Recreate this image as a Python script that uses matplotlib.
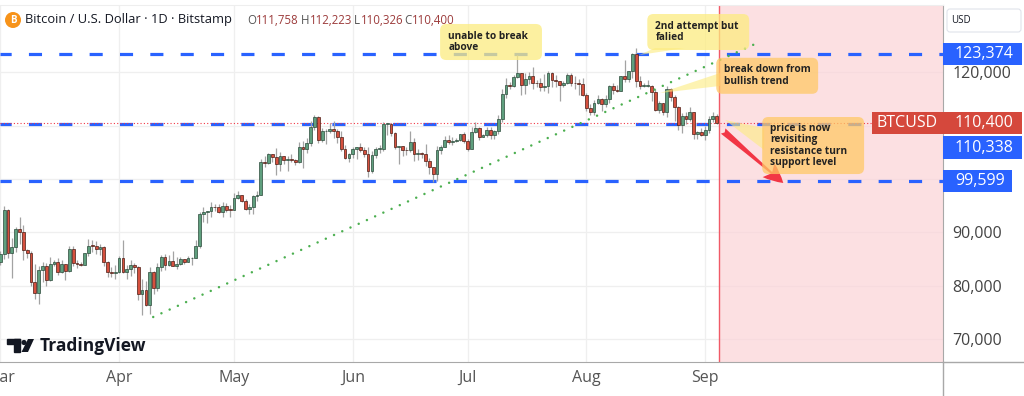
import numpy as np
import pandas as pd
import matplotlib
matplotlib.use('Agg')
import matplotlib.pyplot as plt
from matplotlib.patches import FancyBboxPatch, Rectangle, Polygon, Circle
from matplotlib.lines import Line2D
from matplotlib.transforms import Affine2D
from matplotlib.ticker import FuncFormatter

# BTCUSD daily candles, Bitstamp, 1 Mar - 4 Sep 2025 (values in $k)
first_open = 84.35

mar_close = [86.0, 94.25, 86.1, 87.2, 90.6, 89.95, 86.7, 86.15, 80.7, 78.6, 82.9, 83.7, 81.1, 84.0, 84.35, 82.6,
             84.05, 82.7, 86.85, 84.15, 84.05, 83.8, 86.05, 87.5, 87.45, 86.9, 87.2, 84.35, 82.6, 82.35, 82.5]
mar_high = [86.5, 95.0, 94.4, 88.9, 91.0, 92.8, 91.3, 86.9, 86.5, 84.1, 83.6, 84.4, 84.3, 85.3, 84.7, 85.1,
            84.7, 84.1, 87.4, 87.4, 84.8, 84.5, 86.1, 88.7, 88.5, 88.3, 87.8, 87.5, 84.6, 83.5, 83.9]
mar_low = [83.8, 85.0, 85.2, 81.4, 86.3, 87.8, 84.7, 85.2, 80.0, 77.5, 76.6, 80.6, 79.9, 80.8, 83.6, 82.0,
           82.4, 81.1, 82.6, 83.6, 83.2, 83.6, 83.8, 85.6, 86.3, 85.9, 85.8, 83.7, 81.6, 81.6, 81.3]

apr_close = [85.15, 82.5, 83.1, 83.85, 83.5, 78.35, 79.15, 76.3, 82.6, 79.6, 83.4, 85.3, 83.8, 84.55, 83.65,
             84.05, 84.9, 84.45, 85.1, 85.15, 87.5, 93.45, 93.7, 93.95, 94.7, 94.65, 93.75, 94.95, 94.25, 94.2]
apr_high = [85.5, 88.5, 83.9, 84.7, 84.2, 83.7, 81.2, 80.8, 83.5, 82.7, 84.2, 85.8, 86.0, 85.8, 86.4,
            85.4, 85.4, 85.0, 85.6, 85.3, 88.5, 93.8, 94.7, 94.0, 95.6, 95.2, 95.2, 95.6, 95.4, 95.1]
apr_low = [82.4, 82.3, 81.2, 81.7, 82.4, 77.2, 74.5, 76.2, 74.6, 78.4, 78.9, 82.8, 82.9, 83.7, 83.6,
           83.1, 83.9, 84.1, 84.4, 83.9, 85.1, 87.0, 91.9, 91.7, 92.9, 93.9, 93.6, 92.9, 93.8, 92.9]

may_close = [96.5, 96.9, 95.9, 94.3, 94.75, 96.8, 97.05, 103.2, 102.95, 104.65, 104.1, 102.8, 104.2, 103.5,
             103.75, 103.5, 103.2, 106.05, 105.6, 106.8, 109.7, 111.7, 107.3, 108.9, 109.0, 109.45, 108.95,
             107.8, 105.65, 103.95, 104.65]
may_high = [97.4, 97.8, 96.9, 96.3, 95.2, 96.9, 97.7, 103.8, 104.3, 104.9, 104.6, 105.8, 105.0, 104.3,
            104.2, 104.6, 103.7, 107.0, 107.1, 107.7, 110.8, 111.9, 111.8, 109.5, 109.4, 110.4, 110.8,
            109.3, 108.9, 106.3, 104.9]
may_low = [94.1, 96.2, 95.7, 94.1, 93.5, 93.4, 95.8, 97.0, 102.3, 102.8, 103.1, 100.8, 101.5, 102.7,
           101.4, 103.1, 102.6, 103.0, 102.0, 104.9, 106.1, 109.2, 106.8, 106.9, 106.6, 108.7, 107.6,
           106.7, 105.3, 103.7, 103.1]

jun_close = [105.7, 105.9, 105.4, 104.7, 101.55, 104.4, 105.6, 105.7, 110.25, 110.25, 108.65, 105.95, 106.1,
             105.45, 105.35, 106.95, 104.6, 104.85, 104.65, 103.3, 102.2, 100.95, 105.4, 106.05, 107.3,
             106.95, 107.1, 107.35, 108.35, 107.15]
jun_high = [105.9, 105.9, 106.8, 106.0, 105.9, 105.3, 105.9, 106.4, 110.6, 110.4, 110.4, 108.8, 106.2,
            106.2, 106.0, 108.9, 107.7, 105.6, 105.0, 106.5, 103.9, 102.2, 106.1, 106.3, 108.0,
            108.2, 107.8, 107.6, 108.5, 108.8]
jun_low = [103.9, 103.8, 105.0, 104.1, 100.4, 101.1, 104.0, 104.9, 105.3, 108.3, 108.1, 105.7, 102.8,
           104.3, 104.5, 105.0, 103.4, 103.5, 103.9, 102.4, 101.0, 99.4, 99.6, 104.6, 105.9,
           106.6, 106.4, 106.9, 107.2, 106.7]

jul_close = [105.7, 108.85, 109.6, 107.95, 108.2, 109.2, 108.25, 108.95, 111.3, 115.95, 117.55, 117.45, 119.1,
             119.85, 117.7, 118.75, 119.3, 117.95, 117.9, 117.3, 117.4, 119.9, 118.6, 118.4, 117.65, 117.95,
             119.45, 118.05, 117.9, 117.8, 115.75]
jul_high = [107.5, 109.8, 110.6, 109.7, 108.4, 109.7, 109.7, 109.2, 111.9, 116.8, 118.9, 118.2, 119.5,
            123.2, 119.9, 119.8, 120.1, 120.9, 118.6, 118.9, 119.7, 120.2, 120.1, 119.5, 118.4, 118.4,
            119.8, 119.8, 119.3, 118.8, 118.9]
jul_low = [105.3, 105.6, 108.6, 107.3, 107.8, 107.8, 107.5, 107.4, 108.4, 110.6, 115.2, 116.9, 117.3,
           118.9, 115.7, 115.9, 117.8, 116.9, 117.3, 116.5, 116.5, 116.2, 117.3, 117.3, 114.7, 117.3,
           117.8, 117.4, 116.9, 115.8, 115.5]

aug_close = [113.3, 112.55, 114.2, 115.05, 114.1, 115.0, 117.5, 116.65, 116.5, 119.3, 118.7, 120.15, 123.35,
             118.35, 117.4, 117.45, 117.5, 116.25, 112.85, 114.25, 112.5, 116.9, 115.35, 113.5, 110.1,
             111.8, 111.25, 112.55, 108.4, 108.8, 108.25]
aug_high = [116.1, 114.0, 114.8, 115.7, 115.1, 115.7, 117.7, 117.9, 117.6, 119.3, 122.3, 120.3, 123.7,
            124.5, 119.3, 117.9, 118.6, 117.6, 116.8, 114.6, 114.3, 117.4, 117.0, 115.8, 113.7,
            112.4, 112.6, 113.4, 112.6, 108.9, 109.5]
aug_low = [112.8, 112.0, 112.0, 114.1, 112.7, 113.4, 114.3, 115.9, 116.3, 116.5, 118.1, 118.2, 118.9,
           117.2, 116.8, 117.2, 117.2, 114.7, 112.7, 112.4, 111.9, 111.6, 114.6, 110.9, 109.2,
           108.7, 110.3, 110.9, 107.4, 107.4, 108.1]

sep_close = [109.25, 111.25, 111.758, 110.4]
sep_high = [109.9, 111.8, 112.6, 112.223]
sep_low = [107.3, 108.6, 110.6, 110.326]

month_labels = ['Mar', 'Apr', 'May', 'Jun', 'Jul', 'Aug', 'Sep']

# horizontal levels drawn on the chart
resistance_level = 123374
mid_level = 110338
support_level = 99599
last_price = 110400

# dotted trend line (day index from 1 Mar, price)
trend_x = [39.9, 197.6]
trend_y = [74090, 125490]

closes = np.array(mar_close + apr_close + may_close + jun_close + jul_close + aug_close + sep_close) * 1000
highs = np.array(mar_high + apr_high + may_high + jun_high + jul_high + aug_high + sep_high) * 1000
lows = np.array(mar_low + apr_low + may_low + jun_low + jul_low + aug_low + sep_low) * 1000
opens = np.concatenate([[first_open * 1000], closes[:-1]])

start = pd.Timestamp('2025-03-01')
days = np.arange(len(closes))
month_ticks = [(pd.Timestamp(f'2025-{m:02d}-01') - start).days for m in range(3, 10)]

plt.rcParams['font.family'] = ['Open Sans', 'DejaVu Sans']

fig = plt.figure(figsize=(10.24, 3.96), dpi=100)
fig.set_facecolor('white')
ax = fig.add_axes([0, 34 / 396, 943 / 1024, 357 / 396])
# image-pixel transform for the overlay bits (header, logo)
pix = Affine2D().scale(0.01, -0.01).translate(0, 3.96) + fig.dpi_scale_trans

ax.set_xlim(-0.1, 246.1)
ax.set_ylim(65650, 132620)


def price_fmt(v, p):
    # 100k and 110k sit under the price tags
    if v in (100000, 110000):
        return ''
    return f'{v:,.0f}'


ax.set_xticks(month_ticks)
ax.set_xticklabels(month_labels)
ax.set_yticks(np.arange(70000, 120001, 10000))
ax.yaxis.set_major_formatter(FuncFormatter(price_fmt))
ax.yaxis.tick_right()
ax.tick_params(axis='y', length=0, pad=7, labelsize=11.5, labelcolor='#444444')
ax.tick_params(axis='x', length=0, pad=6, labelsize=11.5, labelcolor='#555555')
ax.grid(True, color='#efefef', lw=0.9, zorder=0)
ax.set_axisbelow(True)
ax.spines['left'].set_visible(False)
ax.spines['top'].set_color('#eeeeee')
ax.spines['right'].set_color('#a8a8a8')
ax.spines['bottom'].set_color('#a8a8a8')

# future area
cut = 187.65
ax.axvspan(cut, 260, color='#fbd3d7', alpha=0.7, lw=0, zorder=1)
ax.axvline(cut, color='#f05a67', lw=1.0, zorder=1.5)

# levels
for lvl in [resistance_level, mid_level, support_level]:
    ax.axhline(lvl, color='#2962ff', lw=2.3, ls=(0.6, (4.1, 5.4)), zorder=2)
ax.axhline(last_price, color='#f23645', lw=0.8, ls=(0, (1, 2)), zorder=2)

# candles
up = closes >= opens
bottom = np.minimum(opens, closes)
height = np.maximum(np.abs(closes - opens), 150)
ax.vlines(days, lows, highs, color='#a3a3a3', lw=0.9, zorder=3)
ax.bar(days[up], height[up], bottom=bottom[up], width=0.72, color='#5f9f7e',
       edgecolor='#2c4a3b', linewidth=0.5, zorder=3.5)
ax.bar(days[~up], height[~up], bottom=bottom[~up], width=0.72, color='#d6503e',
       edgecolor='#4a1d15', linewidth=0.5, zorder=3.5)

# trend line
ax.plot(trend_x, trend_y, color='#4caf50', lw=1.8, ls=(0, (0.01, 3.6)),
        dash_capstyle='round', zorder=4)

# red arrow toward support
ax.annotate('', xy=(204.4, 99230), xytext=(188.7, 108980),
            arrowprops=dict(arrowstyle='fancy,head_length=1.4,head_width=1.3,tail_width=0.5',
                            fc='#f23645', ec='none', shrinkA=0, shrinkB=0, mutation_scale=10),
            zorder=5)

# callouts
yellow = '#fcec80'
orange = '#ffc966'
callouts = [
    ('unable to break\nabove', 114.8, 141.4, 122300, 129060, yellow, None),
    ('2nd attempt but\nfalied', 168.9, 195.5, 124180, 130930, yellow,
     [(166.8, 123240), (170.9, 124550), (178.8, 124550)]),
    ('break down from\nbullish trend', 186.9, 213.5, 115960, 122720, orange,
     [(172.2, 116110), (187.9, 119860), (187.9, 117430)]),
    ('price is now\nrevisiting\nresistance turn\nsupport level', 198.9, 225.5, 100910, 111610, orange,
     [(189.2, 111040), (199.4, 109540), (199.4, 105420)]),
]
for text, x0, x1, y0, y1, fc, tail in callouts:
    if tail:
        ax.add_patch(Polygon(tail, closed=True, fc=yellow, ec='none', alpha=0.6, zorder=6))
    box = FancyBboxPatch((x0, y0), x1 - x0, y1 - y0,
                         boxstyle='round,pad=0,rounding_size=1.6', mutation_aspect=718.5,
                         fc=fc, ec='none', alpha=0.75, zorder=6)
    ax.add_patch(box)
    ax.text(x0 + 2.1, (y0 + y1) / 2, text, ha='left', va='center', fontsize=7.3,
            fontweight='bold', color='#222222', linespacing=1.08, zorder=7)

# price labels on the scale
ytr = ax.get_yaxis_transform()
box_h = 4130


def price_tag(y, label, fc, x0=943, x1=1022, tx=955):
    ax.add_patch(Rectangle((x0 / 943, y - box_h / 2), (x1 - x0) / 943, box_h, transform=ytr,
                           fc=fc, ec='none', clip_on=False, zorder=10))
    ax.text(tx / 943, y, label, transform=ytr, ha='left', va='center', color='white',
            fontsize=11.5, clip_on=False, zorder=11)


price_tag(resistance_level, f'{resistance_level:,}', '#2962ff')
price_tag(mid_level - 4450, f'{mid_level:,}', '#2962ff')
price_tag(support_level, f'{support_level:,}', '#2962ff', x1=1012)
price_tag(last_price, f'{last_price:,}', '#d5483c')
price_tag(last_price, 'BTCUSD', '#d5483c', x0=872, x1=943, tx=877)

# scale frame pieces outside the axes
fig.add_artist(Line2D([943, 943], [362, 396], transform=pix, color='#a8a8a8', lw=1))
fig.add_artist(Line2D([943, 1024], [362, 362], transform=pix, color='#a8a8a8', lw=1))
fig.add_artist(FancyBboxPatch((947, 9), 74, 23, boxstyle='round,pad=0,rounding_size=3',
                              transform=pix, fc='white', ec='#e0e3eb', lw=0.8))
fig.text(951, 20.5, 'USD', transform=pix, fontsize=7, color='#131722', va='center')

# header
fig.add_artist(Circle((13, 20), 8, transform=pix, fc='#f7931a', ec='none'))
fig.text(13, 20.5, 'B', transform=pix, fontsize=7, fontweight='bold', color='white',
         ha='center', va='center')
fig.text(25, 20, 'Bitcoin / U.S. Dollar \u00b7 1D \u00b7 Bitstamp', transform=pix, fontsize=9.3,
         color='#131722', va='center')
ohlc = [('O', 247), ('111,758', 256), ('H', 301), ('112,223', 310),
        ('L', 354), ('110,326', 361), ('C', 404), ('110,400', 412)]
for s, xpos in ohlc:
    col = '#555555' if s.isalpha() else '#9c3b3b'
    fig.text(xpos, 20, s, transform=pix, fontsize=8.3, color=col, va='center')

# watermark
for r in [Rectangle((7, 339), 13, 4.5), Rectangle((13.5, 339), 6.5, 13)]:
    r.set_transform(pix)
    r.set_color('#131722')
    fig.add_artist(r)
fig.add_artist(Circle((24, 342.5), 2.6, transform=pix, fc='#131722', ec='none'))
fig.add_artist(Polygon([(28, 339), (34, 339), (28, 352), (21.5, 352)], closed=True,
                       transform=pix, fc='#131722', ec='none'))
fig.text(40, 346, 'TradingView', transform=pix, fontsize=12.5, fontweight='bold',
         color='#131722', va='center')

fig.savefig('out.png', dpi=100, facecolor=fig.get_facecolor())
